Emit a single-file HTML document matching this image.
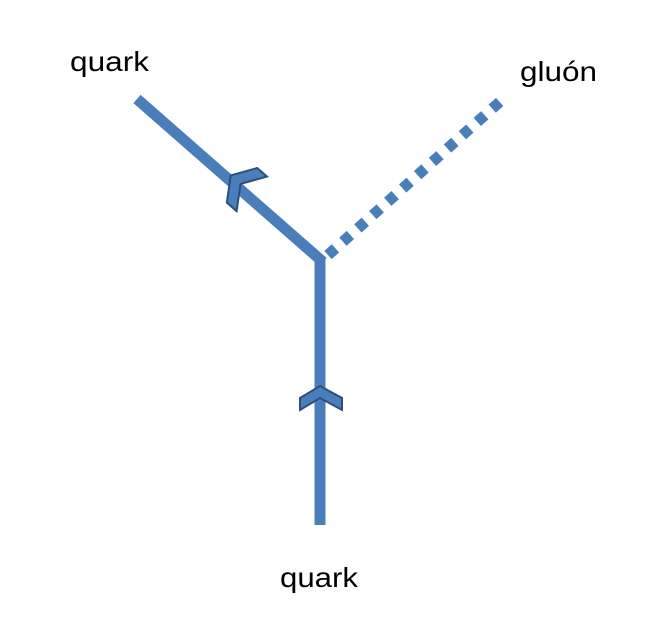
<!DOCTYPE html>
<html><head><meta charset="utf-8"><style>
html,body{margin:0;padding:0;background:#fff;width:658px;height:630px;overflow:hidden}
text{font-family:"Liberation Sans",sans-serif;font-size:28px;fill:#000}
</style></head><body>
<svg width="658" height="630" viewBox="0 0 658 630">
<line x1="320" y1="525" x2="320" y2="258" stroke="#4a7ebb" stroke-width="11"/>
<line x1="323" y1="262" x2="137" y2="99" stroke="#4a7ebb" stroke-width="11"/>
<line x1="328" y1="255" x2="503" y2="99" stroke="#4a7ebb" stroke-width="11" stroke-dasharray="10,10"/>
<polygon points="300,398 320,386 342,398 342,410 320,398 300,410" fill="#4a7ebb" stroke="#2c4f7c" stroke-width="2"/>
<g transform="translate(236,180) rotate(-48.7)">
<polygon points="-23,8 0,-7 23,8 23,21 0,6 -23,21" fill="#4a7ebb" stroke="#2c4f7c" stroke-width="2"/>
</g>
<text x="70" y="71" textLength="79" lengthAdjust="spacingAndGlyphs">quark</text>
<text x="520" y="81" textLength="77" lengthAdjust="spacingAndGlyphs">gluón</text>
<text x="280" y="587" textLength="78" lengthAdjust="spacingAndGlyphs">quark</text>
</svg>
</body></html>
